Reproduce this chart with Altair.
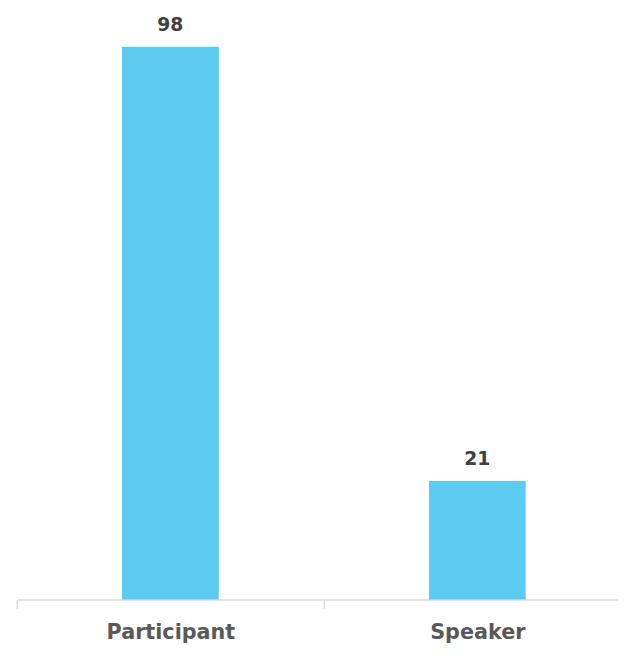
import altair as alt
import pandas as pd

categories = ["Participant", "Speaker"]
values = [98, 21]

df = pd.DataFrame({"role": categories, "count": values})

base = alt.Chart(df).encode(
    x=alt.X("role:N", sort=categories, title=None,
            scale=alt.Scale(paddingInner=0, paddingOuter=0),
            axis=alt.Axis(labelAngle=0, labelFontSize=21, labelFont="DejaVu Sans",
                          labelFontWeight="bold", labelColor="#595959",
                          labelPadding=14, tickBand="extent", tickSize=9,
                          tickColor="#d9d9d9", tickWidth=1.5,
                          domainColor="#d9d9d9", domainWidth=1.5, grid=False)),
    y=alt.Y("count:Q", scale=alt.Scale(domain=[0, 98], nice=False, zero=True),
            axis=None),
)

bars = base.mark_bar(width=98, color="#5CCBF0")
labels = base.mark_text(dy=-16, baseline="alphabetic", fontSize=19,
                        font="DejaVu Sans", fontWeight="bold", color="#404040").encode(
    text="count:Q")

chart = (bars + labels).properties(
    width=622, height=560,
    autosize=alt.AutoSizeParams(type="none"),
    padding={"left": 9, "top": 35, "right": -13, "bottom": 40},
).configure_view(stroke=None)

chart.save("out.html", embed_options={"renderer": "svg", "actions": False})
